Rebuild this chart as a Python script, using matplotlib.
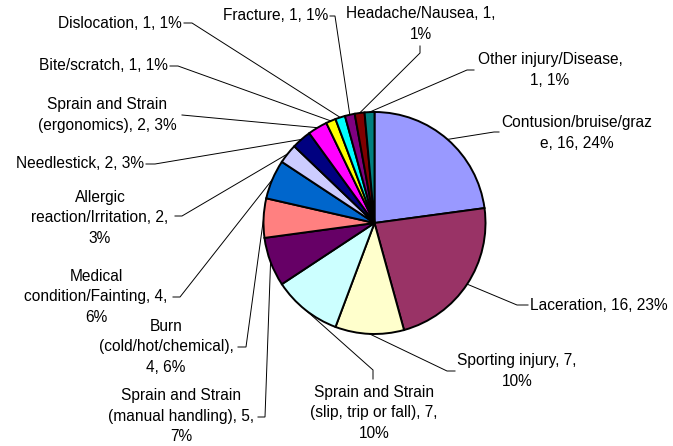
import matplotlib
matplotlib.use("Agg")
import matplotlib.pyplot as plt
import numpy as np

plt.rcParams["font.family"] = ["Liberation Sans", "DejaVu Sans"]

# Data (clockwise from 12 o'clock)
categories = [
    "Contusion/bruise/graze", "Laceration", "Sporting injury",
    "Sprain and Strain (slip, trip or fall)", "Sprain and Strain (manual handling)",
    "Burn (cold/hot/chemical)", "Medical condition/Fainting",
    "Allergic reaction/Irritation", "Needlestick", "Sprain and Strain (ergonomics)",
    "Bite/scratch", "Dislocation", "Fracture", "Headache/Nausea", "Other injury/Disease",
]
counts = [16, 16, 7, 7, 5, 4, 4, 2, 2, 2, 1, 1, 1, 1, 1]
percents = [24, 23, 10, 10, 7, 6, 6, 3, 3, 3, 1, 1, 1, 1, 1]

label_text = [
    "Contusion/bruise/graz\ne, 16, 24%",
    "Laceration, 16, 23%",
    "Sporting injury, 7,\n10%",
    "Sprain and Strain\n(slip, trip or fall), 7,\n10%",
    "Sprain and Strain\n(manual handling), 5,\n7%",
    "Burn\n(cold/hot/chemical),\n4, 6%",
    "Medical\ncondition/Fainting, 4,\n6%",
    "Allergic\nreaction/Irritation, 2,\n3%",
    "Needlestick, 2, 3%",
    "Sprain and Strain\n(ergonomics), 2, 3%",
    "Bite/scratch, 1, 1%",
    "Dislocation, 1, 1%",
    "Fracture, 1, 1%",
    "Headache/Nausea, 1,\n1%",
    "Other injury/Disease,\n1, 1%",
]

colors = ["#9999FF", "#993366", "#FFFFCC", "#CCFFFF", "#660066", "#FF8080",
          "#0066CC", "#CCCCFF", "#000080", "#FF00FF", "#FFFF00", "#00FFFF",
          "#800080", "#800000", "#008080"]

# Layout in image pixels (x right, y down)
W, H = 673, 446
center = (374.5, 223)
radius = 111

# text anchor: (x, y, ha)
text_pos = [
    (577, 133, "center"), (530, 305, "left"), (517, 371, "center"),
    (374, 413, "center"), (181, 416, "center"), (166, 347, "center"),
    (96, 297, "center"), (100, 218, "center"), (144, 164, "right"),
    (107, 115, "center"), (168, 66, "right"), (182, 23, "right"),
    (328, 16, "right"), (421, 24, "center"), (550, 70, "center"),
]
# leader: elbow point, end point near text
leader = [
    ((494, 132), (499, 132)), ((517, 305), (528, 305)), ((447, 371), (455, 371)),
    ((373, 370), (373, 379)), ((265, 417), (258, 417)), ((246, 347), (238, 347)),
    ((180, 297), (173, 297)), ((182, 216), (175, 216)), ((155, 164), (146, 164)),
    ((182, 115), (182, 115)), ((178, 66), (170, 66)), ((192, 23), (184, 23)),
    ((335, 16), (330, 16)), ((420, 53), (420, 46)), ((467, 70), (474, 70)),
]


def px(x, y):
    return x, H - y


fig = plt.figure(figsize=(W / 100, H / 100), dpi=100)
ax = fig.add_axes([0, 0, 1, 1])
ax.set_xlim(0, W)
ax.set_ylim(0, H)
ax.set_aspect("equal")
ax.axis("off")

wedges, _ = ax.pie(
    counts, colors=colors, startangle=90, counterclock=False,
    center=px(*center), radius=radius,
    wedgeprops=dict(edgecolor="black", linewidth=1.4),
)
ax.set_xlim(0, W)
ax.set_ylim(0, H)

cx, cy = px(*center)
for w, txt, (tx, ty, ha), (elbow, end) in zip(wedges, label_text, text_pos, leader):
    mid = np.deg2rad((w.theta1 + w.theta2) / 2)
    sx = cx + radius * np.cos(mid)
    sy = cy + radius * np.sin(mid)
    ex, ey = px(*elbow)
    nx, ny = px(*end)
    ax.plot([sx, ex, nx], [sy, ey, ny], color="black", linewidth=0.7,
            solid_joinstyle="miter", zorder=0)
    ax.text(*px(tx, ty), txt, ha=ha, va="center", multialignment="center",
            fontsize=11.2, color="black", linespacing=1.45)

fig.savefig("out.png", dpi=100)
